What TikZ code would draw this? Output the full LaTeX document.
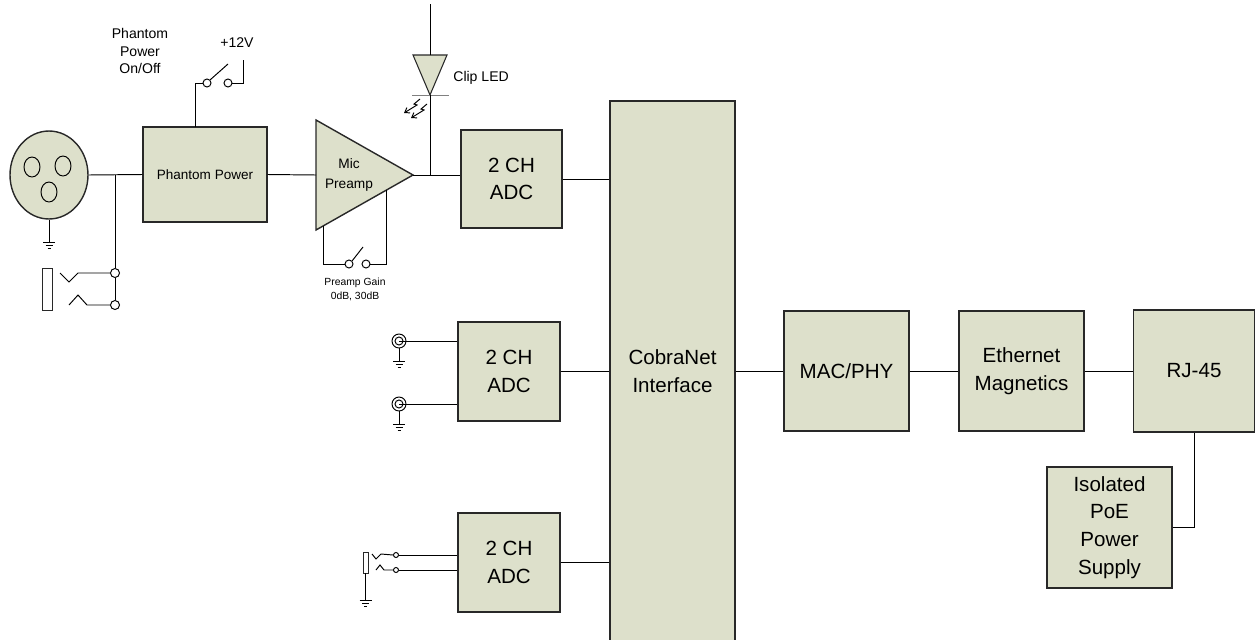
\documentclass[tikz,border=0pt]{standalone}
\usepackage{fontspec}
\setmainfont{Liberation Sans}
\usetikzlibrary{arrows.meta,shapes.geometric,calc}

\definecolor{boxfill}{RGB}{221,224,203}
\definecolor{boxline}{RGB}{40,40,40}

\tikzset{
  block/.style={draw=boxline, fill=boxfill, line width=0.8pt, align=center, inner sep=0pt,
    font=\fontsize{11.7pt}{15.8pt}\selectfont},
  wire/.style={line width=0.55pt},
  contact/.style={circle, draw, fill=white, inner sep=0pt, minimum size=0.16cm, line width=0.55pt},
  lbl/.style={font=\fontsize{8pt}{10.2pt}\selectfont, align=center, inner sep=0pt},
  tinylbl/.style={font=\fontsize{5.9pt}{8pt}\selectfont, align=center, inner sep=0pt},
}

% ground symbol, #1 = top point
\newcommand{\earth}[1]{\draw[wire] #1 ++(-6,0) -- ++(12,0) ++(-9.5,3) -- ++(7,0) ++(-5,3) -- ++(3,0);}

\begin{document}
\begin{tikzpicture}[x=0.02cm, y=-0.02cm]
  \useasboundingbox (0,0) rectangle (1256,639);
  \clip (0,0) rectangle (1256,639);

  % blocks
  \begin{scope}[every node/.style={block}]
    \node[ellipse, minimum width=1.56cm, minimum height=1.76cm] (xlr) at (49,175) {};
    \node[minimum width=2.48cm, minimum height=1.9cm, font=\fontsize{7.7pt}{9pt}\selectfont] (phantom) at (205,174.5) {Phantom Power};
    \node[minimum width=2.02cm, minimum height=1.96cm] (adc1) at (511.5,179) {2 CH\\ADC};
    \node[minimum width=2.04cm, minimum height=1.98cm] (adc2) at (509,371.5) {2 CH\\ADC};
    \node[minimum width=2.04cm, minimum height=1.98cm] (adc3) at (509,562.5) {2 CH\\ADC};
    \node[minimum width=2.5cm, minimum height=10.8cm] (cobra) at (672.5,371) {CobraNet\\Interface};
    \node[minimum width=2.5cm, minimum height=2.4cm] (mac) at (846.5,371) {MAC/PHY};
    \node[minimum width=2.5cm, minimum height=2.4cm] (eth) at (1021.5,371) {Ethernet\\Magnetics};
    \node[minimum width=2.42cm, minimum height=2.44cm] (rj) at (1194,371) {RJ-45};
    \node[minimum width=2.5cm, minimum height=2.42cm] (poe) at (1109.5,527.5) {Isolated\\PoE\\Power\\Supply};
  \end{scope}

  % xlr pins
  \draw[wire] (32,167) ellipse [x radius=0.16cm, y radius=0.2cm];
  \draw[wire] (63,166) ellipse [x radius=0.16cm, y radius=0.2cm];
  \draw[wire] (49,192) ellipse [x radius=0.16cm, y radius=0.2cm];
  \draw[wire] (xlr.south) -- (49,242);
  \earth{(49,242)}

  % mic preamp and clip led
  \draw[block] (316,120) -- (413,175) -- (316,230) -- cycle;
  \coordinate (amp in) at (316,175);
  \coordinate (amp out) at (413,175);
  \node[lbl, font=\fontsize{7.8pt}{11.4pt}\selectfont] (amptext) at (349,175) {Mic\\Preamp};
  \draw[block, line width=0.6pt] (413,55) -- (447,55) -- (430,95) -- cycle;
  \draw[wire, gray] (412,95) -- (449,95);
  \draw[wire] (430,55) -- (430,4);
  \draw[wire, -{Straight Barb[length=2.5pt,width=3.5pt]}] (420,99) -- (414,104) -- (417,105) -- (404,113);
  \draw[wire, -{Straight Barb[length=2.5pt,width=3.5pt]}] (427,104) -- (421,109) -- (424,110) -- (411,118);
  \coordinate (led k) at (430,95);
  \coordinate (led j) at (430,175);

  % contacts
  \begin{scope}[every node/.style={contact}]
    \node[minimum size=0.18cm] (jk1a) at (115,273) {};
    \node[minimum size=0.18cm] (jk1b) at (115,305) {};
    \node (sw1a) at (207,83) {};
    \node (sw1b) at (228,83) {};
    \node (sw2a) at (349,264) {};
    \node (sw2b) at (366,264) {};
    \node[minimum size=0.28cm] (bnc1) at (399,341) {};
    \node[minimum size=0.28cm] (bnc2) at (399,404) {};
    \node[minimum size=0.1cm] (jk3a) at (396,555) {};
    \node[minimum size=0.1cm] (jk3b) at (396,570) {};
  \end{scope}

  % labels
  \node[lbl] (pplbl) at (140,51) {Phantom\\Power\\On/Off};
  \node[lbl] (vlbl) at (237,43) {+12V};
  \node[lbl, anchor=west] (ledlbl) at (453,78) {Clip LED};
  \node[tinylbl] (gainlbl) at (355,289) {Preamp Gain\\0dB, 30dB};

  % xlr / jack input
  \coordinate (xj) at (115,175);
  \draw[wire] (xlr.east) -- (phantom.west);
  \draw[wire] (xj) -- (jk1a.north);
  \draw[wire] (jk1a.south) -- (jk1b.north);
  \draw[wire, draw=boxline, fill=white] (42,268) rectangle (52,310);
  \draw[wire] (60,273) -- (69,282) -- (78,273) -- (jk1a.west);
  \draw[wire] (69,305) -- (78,295) -- (87,305) -- (jk1b.west);

  % phantom switch
  \coordinate (pp top) at (195,127);
  \coordinate (v12) at (243,60);
  \draw[wire] (pp top) |- (sw1a.west);
  \draw[wire] (sw1b.east) -| (v12);
  \draw[wire] (sw1a.north east) -- (228,64);

  % preamp
  \draw[wire] (phantom.east) -- (amp in);
  \draw[wire] (323,226) |- (sw2a.west);
  \draw[wire] (sw2b.east) -| (386,190);
  \draw[wire] (sw2a.north east) -- (363,247);
  \draw[wire] (amp out) -- (adc1.west |- amp out);
  \draw[wire] (led j) -- (led k);

  % line inputs
  \foreach \c in {bnc1,bnc2} {
    \draw[wire] (\c) circle [radius=0.08cm];
    \draw[wire] (\c.center) -- (\c.center -| adc2.west);
    \draw[wire] (\c.south) -- ++(0,13);
    \earth{($(\c.south)+(0,13)$)}
  }

  % jack input
  \draw[wire, draw=boxline, fill=white] (363,552) rectangle (368,573);
  \draw[wire] (365.5,573) -- (365.5,600);
  \earth{(365.5,600)}
  \draw[wire] (372,554) -- (376,559) -- (381,554) -- (jk3a.west);
  \draw[wire] (376,570) -- (380,565) -- (384,570) -- (jk3b.west);
  \draw[wire] (jk3a.east) -- (jk3a -| adc3.west);
  \draw[wire] (jk3b.east) -- (jk3b -| adc3.west);

  % to cobranet and network
  \draw[wire] (adc1.east) -- (adc1.east -| cobra.west);
  \draw[wire] (adc2.east) -- (adc2.east -| cobra.west);
  \draw[wire] (adc3.east) -- (adc3.east -| cobra.west);
  \draw[wire] (cobra.east |- mac.west) -- (mac.west);
  \draw[wire] (mac.east) -- (eth.west);
  \draw[wire] (eth.east) -- (rj.west);
  \draw[wire] (rj.south) |- (poe.east);

\end{tikzpicture}
\end{document}
